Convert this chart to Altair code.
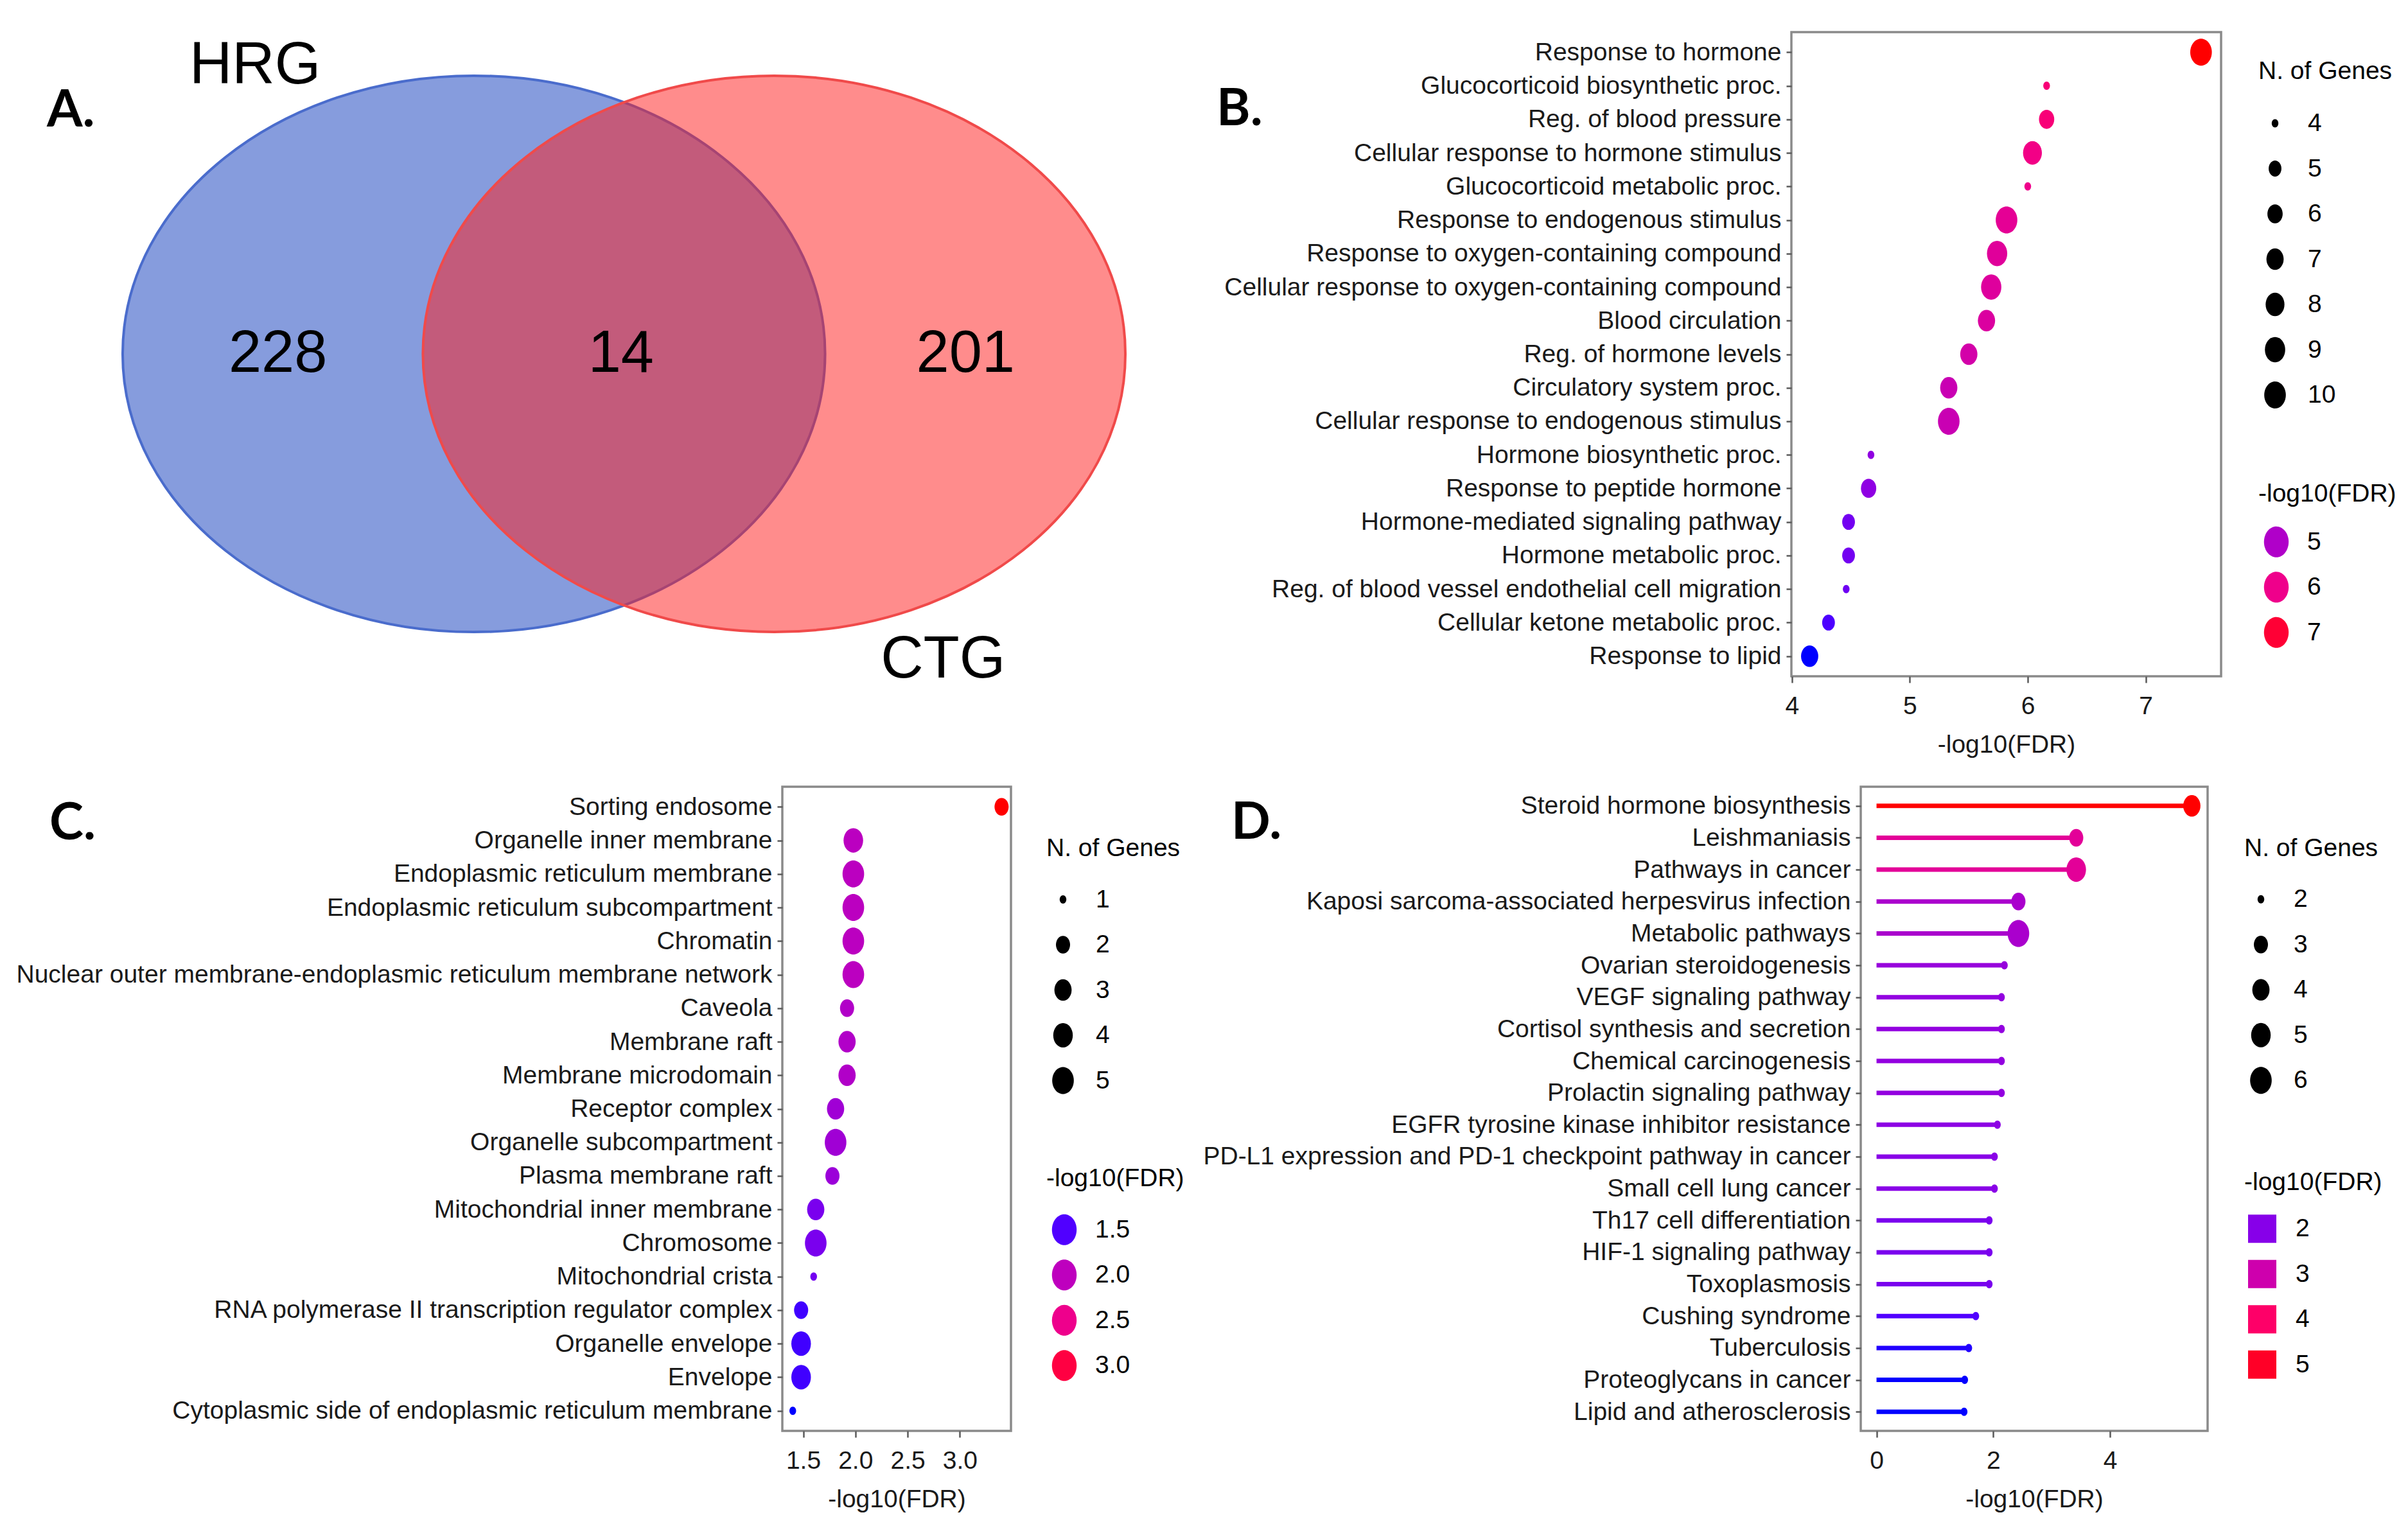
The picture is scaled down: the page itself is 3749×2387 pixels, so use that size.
import math
import altair as alt
import pandas as pd

# ---------------- data ----------------
venn_sets = ["HRG", "CTG"]
venn_regions = ["HRG only", "HRG and CTG", "CTG only"]
venn_counts = [228, 14, 201]

b_terms = [
    "Response to hormone",
    "Glucocorticoid biosynthetic proc.",
    "Reg. of blood pressure",
    "Cellular response to hormone stimulus",
    "Glucocorticoid metabolic proc.",
    "Response to endogenous stimulus",
    "Response to oxygen-containing compound",
    "Cellular response to oxygen-containing compound",
    "Blood circulation",
    "Reg. of hormone levels",
    "Circulatory system proc.",
    "Cellular response to endogenous stimulus",
    "Hormone biosynthetic proc.",
    "Response to peptide hormone",
    "Hormone-mediated signaling pathway",
    "Hormone metabolic proc.",
    "Reg. of blood vessel endothelial cell migration",
    "Cellular ketone metabolic proc.",
    "Response to lipid",
]
b_fdr = [7.47, 6.16, 6.16, 6.04, 6.00, 5.82, 5.74, 5.69, 5.65, 5.50,
         5.33, 5.33, 4.67, 4.65, 4.48, 4.48, 4.46, 4.31, 4.15]
b_genes = [10, 4, 6, 8, 4, 10, 9, 9, 7, 7, 7, 10, 4, 6, 5, 5, 4, 5, 7]

c_terms = [
    "Sorting endosome",
    "Organelle inner membrane",
    "Endoplasmic reticulum membrane",
    "Endoplasmic reticulum subcompartment",
    "Chromatin",
    "Nuclear outer membrane-endoplasmic reticulum membrane network",
    "Caveola",
    "Membrane raft",
    "Membrane microdomain",
    "Receptor complex",
    "Organelle subcompartment",
    "Plasma membrane raft",
    "Mitochondrial inner membrane",
    "Chromosome",
    "Mitochondrial crista",
    "RNA polymerase II transcription regulator complex",
    "Organelle envelope",
    "Envelope",
    "Cytoplasmic side of endoplasmic reticulum membrane",
]
c_fdr = [3.40, 1.98, 1.98, 1.98, 1.98, 1.98, 1.92, 1.92, 1.92, 1.81,
         1.81, 1.78, 1.62, 1.62, 1.60, 1.48, 1.48, 1.48, 1.40]
c_genes = [2, 4, 5, 5, 5, 5, 2, 3, 3, 3, 5, 2, 3, 5, 1, 2, 4, 4, 1]

d_terms = [
    "Steroid hormone biosynthesis",
    "Leishmaniasis",
    "Pathways in cancer",
    "Kaposi sarcoma-associated herpesvirus infection",
    "Metabolic pathways",
    "Ovarian steroidogenesis",
    "VEGF signaling pathway",
    "Cortisol synthesis and secretion",
    "Chemical carcinogenesis",
    "Prolactin signaling pathway",
    "EGFR tyrosine kinase inhibitor resistance",
    "PD-L1 expression and PD-1 checkpoint pathway in cancer",
    "Small cell lung cancer",
    "Th17 cell differentiation",
    "HIF-1 signaling pathway",
    "Toxoplasmosis",
    "Cushing syndrome",
    "Tuberculosis",
    "Proteoglycans in cancer",
    "Lipid and atherosclerosis",
]
d_fdr = [5.40, 3.42, 3.42, 2.43, 2.43, 2.19, 2.14, 2.14, 2.14, 2.14,
         2.07, 2.02, 2.02, 1.93, 1.93, 1.93, 1.70, 1.58, 1.51, 1.50]
d_genes = [4, 3, 5, 3, 6, 2, 2, 2, 2, 2, 2, 2, 2, 2, 2, 2, 2, 2, 2, 2]

# ---------------- styles / layout ----------------
FONT = "Liberation Sans"
TXT = 39
ELLIPSE = "M 0 -1 A 0.8 1 0 1 1 0 1 A 0.8 1 0 1 1 0 -1 Z"
VENN_SHAPE = "M -1 0 A 1 0.792 0 1 1 1 0 A 1 0.792 0 1 1 -1 0 Z"
RY0, RY1 = 6.5, 21.0
PANEL_H = 1003

# blue -> purple -> pink -> red gradient (relative stops over the data range)
GRAD_T = [0.0, 0.05, 0.13, 0.30, 0.56, 0.65, 0.87, 1.0]
GRAD_C = ["#0000ff", "#5000ff", "#8800e8", "#be00be", "#f0008a", "#ff0064", "#ff0032", "#ff0000"]

# Venn geometry (venn units: ellipse half-width = 1)
venn_cx = [0.0, 0.855]
venn_count_x = [-0.558, 0.419, 1.40]
venn_count_y = [0.0, 0.0, 0.0]
venn_label_x = [-0.623, 1.336]
venn_label_y = [1.038, -1.10]


def size_scale(genes):
    lo, hi = min(genes), max(genes)
    vals = list(range(lo, hi + 1))
    sizes = [(2 * (RY0 + (RY1 - RY0) * math.sqrt((v - lo) / (hi - lo)))) ** 2 for v in vals]
    return vals, sizes


def color_scale(fdr, pad=0.0):
    # pad only widens the first stop imperceptibly so the (legend-less) stroke
    # scale of the lollipop stems is not merged with the point colour legend
    lo, hi = min(fdr) - pad, max(fdr)
    return alt.Scale(domain=[lo + t * (hi - lo) for t in GRAD_T], range=GRAD_C,
                     interpolate="rgb", zero=False)


def letter_title(text, dx, dy):
    return alt.TitleParams(text=text, anchor="start", frame="group", orient="top",
                           offset=0, dx=dx, dy=dy, baseline="top", align="left",
                           font="Lato", fontSize=80, fontWeight="bold", color="black")


def panel(terms, fdr, genes, *, width, x_domain, x_ticks, x_fmt,
          color_vals, color_fmt, size_pos, color_pos, letter, lollipop=False):
    df = pd.DataFrame({"term": terms, "fdr": fdr, "genes": genes})
    vals, sizes = size_scale(genes)
    xenc = alt.X("fdr:Q",
                 scale=alt.Scale(domain=x_domain, nice=False, zero=False),
                 axis=alt.Axis(values=x_ticks, format=x_fmt, title="-log10(FDR)"))
    yenc = alt.Y("term:N", sort=terms,
                 scale=alt.Scale(type="point", padding=0.6),
                 axis=alt.Axis(title=None))
    if lollipop:
        csym, csize, coff, clab = "square", 1936, 6, 30
    else:
        csym, csize, coff, clab = ELLIPSE, 2304, 4, 24
    color_legend = alt.Legend(
        type="symbol", values=color_vals, format=color_fmt, title="-log10(FDR)",
        orient="none", direction="vertical", legendX=color_pos[0], legendY=color_pos[1],
        titlePadding=color_pos[2], symbolType=csym, symbolSize=csize,
        symbolOffset=coff, labelOffset=clab)
    size_legend = alt.Legend(
        values=vals, format="d", title="N. of Genes",
        orient="none", direction="vertical", legendX=size_pos[0], legendY=size_pos[1],
        titlePadding=size_pos[2], symbolType=ELLIPSE, symbolFillColor="black",
        symbolOffset=5, labelOffset=30)
    pts = alt.Chart(df).mark_point(shape=ELLIPSE, filled=True, opacity=1, strokeWidth=0).encode(
        x=xenc, y=yenc,
        color=alt.Color("fdr:Q", scale=color_scale(fdr), legend=color_legend),
        size=alt.Size("genes:Q", scale=alt.Scale(domain=vals, range=sizes, zero=False),
                      legend=size_legend),
    )
    if lollipop:
        rule = alt.Chart(df).mark_rule(strokeWidth=7).encode(
            x=xenc, x2=alt.datum(0), y=yenc,
            stroke=alt.Stroke("fdr:Q", scale=color_scale(fdr, pad=1e-6), legend=None),
        )
        ch = alt.layer(rule, pts)
    else:
        ch = pts
    return ch.properties(width=width, height=PANEL_H, title=letter)


# ---------------- Panel A: Venn ----------------
xs = alt.Scale(domain=[-1, 1.855], range=[-1027, 534])
ys = alt.Scale(domain=[-1, 1], range=[934, 68])

ell_df = pd.DataFrame({"set": venn_sets, "cx": venn_cx, "cy": [0.0, 0.0]})
cnt_df = pd.DataFrame({"region": venn_regions, "count": venn_counts,
                       "tx": venn_count_x, "ty": venn_count_y})
lab_df = pd.DataFrame({"set": venn_sets, "tx": venn_label_x, "ty": venn_label_y})

ellipses = alt.Chart(ell_df).mark_point(
    shape=VENN_SHAPE, size=(2 * 546.8) ** 2, filled=True, opacity=1, strokeWidth=4
).encode(
    x=alt.X("cx:Q", scale=xs, axis=None),
    y=alt.Y("cy:Q", scale=ys, axis=None),
    fill=alt.Fill("set:N", scale=alt.Scale(domain=venn_sets, range=["#2f55c4", "#ff1d1d"]), legend=None),
    fillOpacity=alt.FillOpacity("set:N", scale=alt.Scale(domain=venn_sets, range=[0.58, 0.51]), legend=None),
    stroke=alt.Stroke("set:N", scale=alt.Scale(domain=venn_sets, range=["#4a6ccc", "#f04a4a"]), legend=None),
)
counts = alt.Chart(cnt_df).mark_text(font=FONT, fontSize=92, color="black",
                                     baseline="middle", align="center").encode(
    x=alt.X("tx:Q", scale=xs, axis=None),
    y=alt.Y("ty:Q", scale=ys, axis=None),
    text="count:N",
)
labels = alt.Chart(lab_df).mark_text(font=FONT, fontSize=92, color="black",
                                     baseline="middle", align="center").encode(
    x=alt.X("tx:Q", scale=xs, axis=None),
    y=alt.Y("ty:Q", scale=ys, axis=None),
    text="set:N",
)
chart_a = alt.layer(ellipses, counts, labels).properties(
    width=534, height=PANEL_H, title=letter_title("A.", -1145, 164),
    view=alt.ViewBackground(stroke="transparent", strokeWidth=0),
)

chart_b = panel(b_terms, b_fdr, b_genes, width=669, x_domain=[3.995, 7.64],
                x_ticks=[4, 5, 6, 7], x_fmt="d", color_vals=[5, 6, 7], color_fmt="d",
                size_pos=(727, 41.7, 36.3), color_pos=(727, 700.2, 29.6),
                letter=letter_title("B.", -895, 162))
chart_c = panel(c_terms, c_fdr, c_genes, width=356, x_domain=[1.30, 3.49],
                x_ticks=[1.5, 2.0, 2.5, 3.0], x_fmt=".1f", color_vals=[1.5, 2.0, 2.5, 3.0],
                color_fmt=".1f", size_pos=(411, 77.1, 34.4), color_pos=(411, 591.4, 34.4),
                letter=letter_title("C.", -1141, 99))
chart_d = panel(d_terms, d_fdr, d_genes, width=540, x_domain=[-0.27, 5.67],
                x_ticks=[0, 2, 4], x_fmt="d", color_vals=[2, 3, 4, 5], color_fmt="d",
                size_pos=(597, 76.9, 34.4), color_pos=(597, 596.5, 27.8),
                letter=letter_title("D.", -980, 98), lollipop=True)

IND = dict(color="independent", size="independent", stroke="independent",
           fill="independent", fillOpacity="independent")

row1 = alt.hconcat(chart_a, chart_b, spacing=1037, bounds="flush").resolve_scale(**IND).resolve_legend(**IND)
row2 = alt.hconcat(chart_c, chart_d, spacing=1323, bounds="flush").resolve_scale(**IND).resolve_legend(**IND)

chart = alt.vconcat(row1, row2, spacing=1175, bounds="flush").resolve_scale(**IND).resolve_legend(**IND).properties(
    padding={"left": 15, "top": 40, "right": 5, "bottom": 5},
    background="white",
).configure(font=FONT).configure_view(
    stroke="#8a8a8a", strokeWidth=3.5
).configure_axis(
    labelFont=FONT, labelFontSize=TXT, labelColor="#1a1a1a", labelLimit=3000,
    labelOverlap=False, labelFlush=False,
    titleFont=FONT, titleFontSize=TXT, titleFontWeight="normal", titleColor="#1a1a1a",
    tickColor="#5a5a5a", tickWidth=2.5, domain=False, grid=False,
).configure_axisX(
    tickSize=10, labelPadding=17, titlePadding=21,
).configure_axisY(
    tickSize=8, labelPadding=8,
).configure_legend(
    titleFont=FONT, titleFontSize=TXT, titleFontWeight="normal", titleColor="black",
    labelFont=FONT, labelFontSize=TXT, labelColor="black", padding=0,
    clipHeight=50, rowPadding=20.5, symbolStrokeWidth=0, titleLimit=2000, labelLimit=2000,
)

chart.save("out.html", embed_options={"renderer": "svg", "actions": False})
